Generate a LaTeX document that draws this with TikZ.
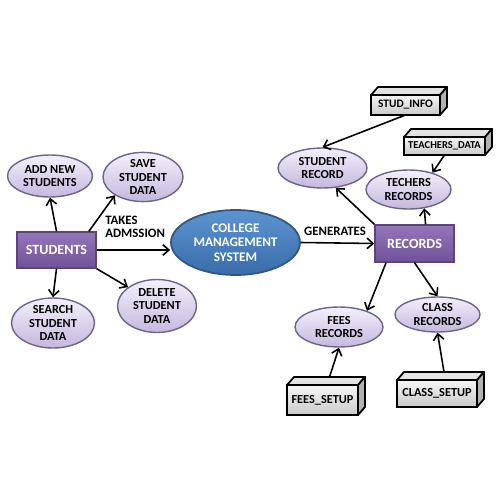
\documentclass[tikz,border=0pt]{standalone}
\usepackage{fontspec}
\setmainfont{Carlito}
\usetikzlibrary{arrows.meta,calc,shapes.geometric}

\definecolor{lavtop}{RGB}{244,240,251}
\definecolor{lavbot}{RGB}{196,184,222}
\definecolor{lavline}{RGB}{110,100,140}
\definecolor{purtop}{RGB}{150,118,186}
\definecolor{purbot}{RGB}{112,82,150}
\definecolor{purline}{RGB}{90,70,120}
\definecolor{blutop}{RGB}{92,148,208}
\definecolor{blubot}{RGB}{58,108,170}
\definecolor{bluline}{RGB}{50,85,130}

\tikzset{
  taskoval/.style={ellipse, draw=lavline, line width=0.8pt, top color=lavtop, bottom color=lavbot,
    inner sep=0pt, align=center, font=\bfseries\fontsize{7}{7.6}\selectfont},
  entitybox/.style={rectangle, draw=purline, line width=0.8pt, top color=purtop, bottom color=purbot,
    text=white, font=\bfseries\fontsize{8}{9}\selectfont},
  hubfield/.style={ellipse, draw=bluline, line width=1pt, top color=blutop, bottom color=blubot,
    text=white, inner sep=0pt, align=center, font=\bfseries\fontsize{7.5}{8.2}\selectfont},
  storebox/.style={rectangle, draw=black, line width=1pt, top color=gray!8, bottom color=gray!42,
    outer sep=0pt, inner sep=0pt, font=\bfseries\fontsize{7}{8}\selectfont},
  flowarrow/.style={-{Straight Barb[length=3.5pt,width=6pt]}, line width=0.9pt},
  flowlabel/.style={font=\bfseries\fontsize{7.3}{7.6}\selectfont, align=left, inner sep=0pt}
}

% extra faces of a 3D data box
\newcommand{\boxfaces}[1]{%
  \filldraw[fill=gray!22, draw=black, line width=1pt, line join=round]
    (#1.north west) -- ++(7,-8) -- ($(#1.north east)+(7,-8)$) -- (#1.north east) -- cycle;
  \filldraw[fill=gray!60, draw=black, line width=1pt, line join=round]
    (#1.north east) -- ++(7,-8) -- ($(#1.south east)+(7,-8)$) -- (#1.south east) -- cycle;
  \coordinate (#1-top) at ($(#1.north)+(7,-8)$);
}

\begin{document}
\begin{tikzpicture}[x=0.02cm, y=-0.02cm]
  \useasboundingbox (0,0) rectangle (500,500);
  \fill[white] (0,0) rectangle (500,500);

  % Left side: students and their tasks
  \node[entitybox, minimum width=1.58cm, minimum height=0.72cm] (students) at (56.5,250) {STUDENTS};
  \node[taskoval, minimum width=1.7cm, minimum height=0.84cm] (addnew) at (50,176) {ADD NEW\\STUDENTS};
  \node[taskoval, minimum width=1.6cm, minimum height=0.98cm] (save) at (143,177) {SAVE\\STUDENT\\DATA};
  \node[taskoval, minimum width=1.58cm, minimum height=1.06cm] (delete) at (157,306) {DELETE\\STUDENT\\DATA};
  \node[taskoval, minimum width=1.66cm, minimum height=1.0cm] (search) at (53,323) {SEARCH\\STUDENT\\DATA};

  % Centre
  \node[hubfield, minimum width=2.58cm, minimum height=1.3cm] (cms) at (235.5,242.5) {COLLEGE\\MANAGEMENT\\SYSTEM};
  \node[flowlabel, anchor=west] (takes) at (105,227) {TAKES\\ADMSSION};
  \node[flowlabel] (generates) at (335,231) {GENERATES};

  % Right side: records
  \node[entitybox, minimum width=1.58cm, minimum height=0.74cm] (records) at (414.5,243.5) {RECORDS};
  \node[taskoval, minimum width=1.78cm, minimum height=0.8cm] (studrec) at (322.5,168) {STUDENT\\RECORD};
  \node[taskoval, minimum width=1.7cm, minimum height=0.78cm] (techrec) at (408.5,189.5) {TECHERS\\RECORDS};
  \node[taskoval, minimum width=1.76cm, minimum height=0.8cm] (fees) at (339,327) {FEES\\RECORDS};
  \node[taskoval, minimum width=1.7cm, minimum height=0.7cm] (class) at (437.5,314.5) {CLASS\\RECORDS};

  % Data boxes
  \node[storebox, minimum width=1.38cm, minimum height=0.4cm, font=\bfseries\fontsize{6.5}{7}\selectfont] (studinfo) at (405.5,105) {STUD\_INFO};
  \boxfaces{studinfo}
  \node[storebox, minimum width=1.62cm, minimum height=0.36cm, font=\bfseries\fontsize{6}{7}\selectfont] (teachdata) at (444.5,146) {TEACHERS\_DATA};
  \boxfaces{teachdata}
  \node[storebox, minimum width=1.42cm, minimum height=0.6cm] (feessetup) at (322.5,400) {FEES\_SETUP};
  \boxfaces{feessetup}
  \node[storebox, minimum width=1.6cm, minimum height=0.54cm] (classsetup) at (437,393.5) {CLASS\_SETUP};
  \boxfaces{classsetup}

  % Arrows from students
  \draw[flowarrow] (students.north) -- (addnew.south);
  \draw[flowarrow] (students.30) -- (save.213);
  \draw[flowarrow] (students.south east) -- (delete.147);
  \draw[flowarrow] (students.south) -- (search.north);
  \draw[flowarrow] (students.east) -- (students.east -| cms.west);

  % Arrows to records
  \draw[flowarrow] (cms.east) -- (records.west);
  \draw[flowarrow] (records.north west) -- (studrec.-56);
  \draw[flowarrow] (records.60) -- (techrec.-50);
  \draw[flowarrow] (records.214) -- (fees.30);
  \draw[flowarrow] (records.south) -- (class.north);

  % Arrows from data boxes
  \draw[flowarrow] (studinfo.south) -- (studrec.north);
  \draw[flowarrow] (teachdata.south) -- (techrec.35);
  \draw[flowarrow] (feessetup-top) -- (fees.south);
  \draw[flowarrow] (classsetup-top) -- (class.south);
\end{tikzpicture}
\end{document}
